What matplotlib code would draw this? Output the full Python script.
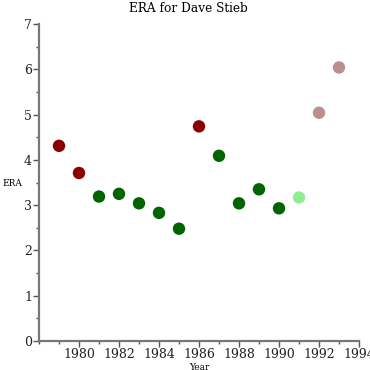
import matplotlib
matplotlib.use('Agg')
import matplotlib.pyplot as plt
from matplotlib.ticker import MultipleLocator

years = [1979, 1980, 1981, 1982, 1983, 1984, 1985, 1986, 1987, 1988, 1989, 1990, 1991, 1992, 1993]
era = [4.31, 3.71, 3.19, 3.25, 3.04, 2.83, 2.48, 4.74, 4.09, 3.04, 3.35, 2.93, 3.17, 5.04, 6.04]
colors = ['#8b0000', '#8b0000', '#006400', '#006400', '#006400', '#006400', '#006400',
          '#8b0000', '#006400', '#006400', '#006400', '#006400', '#90ee90', '#bc8f8f', '#bc8f8f']

plt.rcParams['font.family'] = 'DejaVu Serif'

fig = plt.figure(figsize=(3.7, 3.7), dpi=100)
ax = fig.add_axes([39/370, 1-341/370, 320/370, 317/370])

ax.scatter(years, era, c=colors, s=80, linewidths=0, zorder=3)

ax.set_xlim(1978, 1994)
ax.set_ylim(0, 7)
ax.set_xticks(range(1980, 1995, 2))
ax.xaxis.set_minor_locator(MultipleLocator(1))
ax.yaxis.set_major_locator(MultipleLocator(1))
ax.yaxis.set_minor_locator(MultipleLocator(0.5))

for s in ['top', 'right']:
    ax.spines[s].set_visible(False)
for s in ['left', 'bottom']:
    ax.spines[s].set_color('#777777')
    ax.spines[s].set_linewidth(1.6)

ax.tick_params(which='major', length=4, width=1, color='#555555', labelsize=9, pad=1, labelcolor='#222222')
ax.tick_params(which='minor', length=2.5, width=1, color='#555555')

fig.text(188/370, 1-8/370, 'ERA for Dave Stieb', ha='center', va='center', fontsize=8.7)
fig.text(12/370, 1-183/370, 'ERA', ha='center', va='center', fontsize=6.5)
fig.text(199/370, 1-368/370, 'Year', ha='center', va='center', fontsize=6.5)

fig.savefig('out.png', dpi=100)
